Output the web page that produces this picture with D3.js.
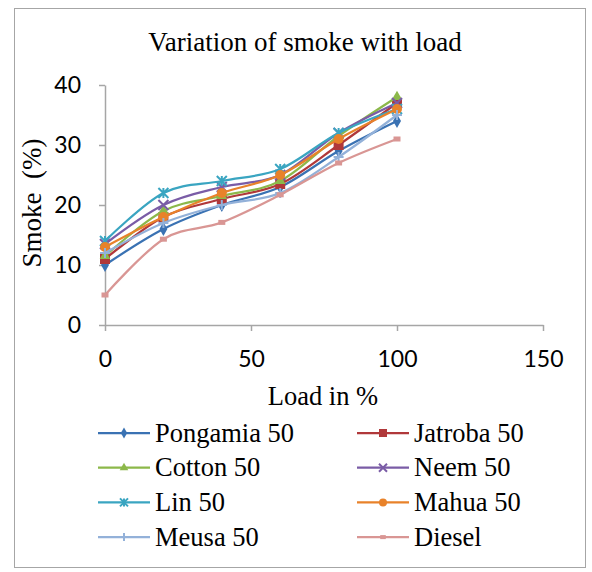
<!DOCTYPE html>
<html>
<head>
<meta charset="utf-8">
<script src="https://cdn.jsdelivr.net/npm/d3@7"></script>
<style>
    body { margin: 0; background: #fff; }
    .axis path, .axis line { stroke: #a6a6a6; stroke-width: 1.5; }
    .axis text { font-family: Lato, "Liberation Sans", sans-serif; font-size: 23px; fill: #000; }
    .serif { font-family: "Liberation Serif", "Times New Roman", serif; fill: #000; }
</style>
</head>
<body>
<div id="chart"></div>
<script>
// load in %
var loads = [0, 20, 40, 60, 80, 100];

// smoke in % per fuel
var pongamia = [10, 16, 20, 23, 29, 34];
var jatroba = [11, 18, 21, 23.5, 30, 37];
var cotton = [11.5, 19, 21.5, 24, 31.5, 38];
var neem = [13.5, 20, 23, 25, 32, 37];
var lin = [14, 22, 24, 26, 32, 36];
var mahua = [13, 18, 22, 25, 31, 36];
var meusa = [12, 17, 20, 22, 28, 35];
var diesel = [5, 14.3, 17.1, 21.7, 27, 31];

var seriesNames = ["Pongamia 50", "Jatroba 50", "Cotton 50", "Neem 50", "Lin 50", "Mahua 50", "Meusa 50", "Diesel"];
var seriesValues = [pongamia, jatroba, cotton, neem, lin, mahua, meusa, diesel];
var seriesColors = ["#3a72b3", "#b0383a", "#8cb84a", "#7a5ca6", "#3aa5c1", "#e8822a", "#93b1d9", "#d99694"];
var seriesMarkers = ["diamond", "square", "triangle", "x", "star", "circle", "plus", "dash"];

var xTicks = [0, 50, 100, 150];
var yTicks = [0, 10, 20, 30, 40];

var svg = d3.select("#chart")
        .append("svg")
        .attr("width", 592)
        .attr("height", 572),
    x = d3.scaleLinear().domain([0, 150]).range([105, 543]),
    y = d3.scaleLinear().domain([0, 40]).range([325, 85]);

svg.append("rect")
    .attr("x", 14.5)
    .attr("y", 8.5)
    .attr("width", 571)
    .attr("height", 559)
    .attr("fill", "#fff")
    .attr("stroke", "#a6a6a6");

svg.append("text")
    .attr("class", "serif")
    .attr("x", 305)
    .attr("y", 51)
    .attr("text-anchor", "middle")
    .style("font-size", "27px")
    .text("Variation of smoke with load");

svg.append("g")
    .attr("class", "axis")
    .attr("transform", "translate(0," + y(0) + ")")
    .call(d3.axisBottom(x).tickValues(xTicks).tickSize(6).tickSizeOuter(0).tickPadding(20));

svg.append("g")
    .attr("class", "axis")
    .attr("transform", "translate(" + x(0) + ",0)")
    .call(d3.axisLeft(y).tickValues(yTicks).tickSize(6).tickSizeOuter(0).tickPadding(18));

svg.append("text")
    .attr("class", "serif")
    .attr("transform", "translate(41,203) rotate(-90)")
    .attr("text-anchor", "middle")
    .style("font-size", "27px")
    .style("white-space", "pre")
    .text("Smoke  (%)");

svg.append("text")
    .attr("class", "serif")
    .attr("x", 323)
    .attr("y", 405)
    .attr("text-anchor", "middle")
    .style("font-size", "26.5px")
    .text("Load in %");

// marker shapes
function marker(sel, type, color, s) {
    if (type == "diamond") {
        sel.append("path").attr("d", d3.symbol(d3.symbolDiamond, s * s * 0.55)()).attr("fill", color);
    } else if (type == "square") {
        sel.append("rect").attr("x", -s / 2).attr("y", -s / 2).attr("width", s).attr("height", s).attr("fill", color);
    } else if (type == "triangle") {
        sel.append("path").attr("d", d3.symbol(d3.symbolTriangle, s * s * 0.5)()).attr("fill", color);
    } else if (type == "x") {
        var h = s / 2;
        sel.append("path").attr("d", "M" + -h + "," + -h + "L" + h + "," + h + "M" + -h + "," + h + "L" + h + "," + -h)
            .attr("stroke", color).attr("stroke-width", 2).attr("fill", "none");
    } else if (type == "star") {
        var k = s / 2;
        sel.append("path").attr("d", "M" + -k + "," + -k + "L" + k + "," + k + "M" + -k + "," + k + "L" + k + "," + -k + "M0," + -k + "L0," + k)
            .attr("stroke", color).attr("stroke-width", 2).attr("fill", "none");
    } else if (type == "circle") {
        sel.append("circle").attr("r", s / 2).attr("fill", color);
    } else if (type == "plus") {
        var p = s / 2;
        sel.append("path").attr("d", "M" + -p + ",0L" + p + ",0M0," + -p + "L0," + p)
            .attr("stroke", color).attr("stroke-width", 2).attr("fill", "none");
    } else if (type == "dash") {
        sel.append("rect").attr("x", -s * 0.35).attr("y", -s * 0.25).attr("width", s * 0.7).attr("height", s * 0.5).attr("fill", color);
    }
}

var line = d3.line()
    .curve(d3.curveCatmullRom.alpha(0))
    .x(function(d, i) { return x(loads[i]); })
    .y(function(d) { return y(d); });

seriesValues.forEach(function(vals, si) {
    var g = svg.append("g").attr("class", "series");
    g.append("path")
        .attr("d", line(vals))
        .attr("fill", "none")
        .attr("stroke", seriesColors[si])
        .attr("stroke-width", 2.25);
    vals.forEach(function(v, i) {
        var m = g.append("g").attr("transform", "translate(" + x(loads[i]) + "," + y(v) + ")");
        marker(m, seriesMarkers[si], seriesColors[si], 10);
    });
});

// legend
var legend = svg.append("g");
seriesNames.forEach(function(name, i) {
    var col = i % 2,
        row = Math.floor(i / 2),
        lx = col == 0 ? 98 : 357,
        ly = 433 + row * 34.7;
    var item = legend.append("g").attr("transform", "translate(" + lx + "," + ly + ")");
    item.append("line")
        .attr("x1", 0).attr("x2", 52)
        .attr("stroke", seriesColors[i])
        .attr("stroke-width", 2.25);
    var m = item.append("g").attr("transform", "translate(26,0)");
    marker(m, seriesMarkers[i], seriesColors[i], 8);
    item.append("text")
        .attr("class", "serif")
        .attr("x", 57)
        .attr("y", 8.5)
        .style("font-size", "26.5px")
        .text(name);
});
</script>
</body>
</html>
